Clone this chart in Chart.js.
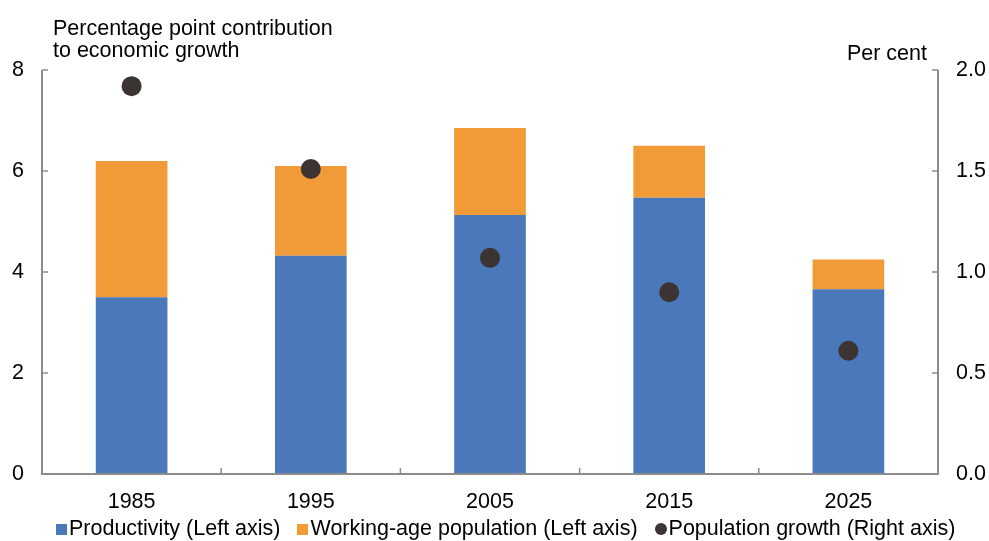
<!DOCTYPE html>
<html>
<head>
<meta charset="utf-8">
<script src="https://cdn.jsdelivr.net/npm/chart.js@4"></script>
<style>
  html, body { margin: 0; padding: 0; background: #fff; }
  #wrap { position: relative; width: 989px; height: 541px; }
  #legend {
    position: absolute; left: 56px; top: 516px;
    font: 21.5px "Liberation Sans", Arial, sans-serif; line-height: 24px;
    color: #000; white-space: nowrap;
  }
  #legend .item { display: inline-block; margin-right: 17px; }
  #legend .box { display: inline-block; width: 11px; height: 11px; margin-right: 2px; }
  #legend .dot { width: 12px; height: 12px; border-radius: 50%; }
</style>
</head>
<body>
<div id="wrap">
  <canvas id="chart" width="989" height="541"></canvas>
  <div id="legend"></div>
</div>
<script>
// values
const years = ['1985', '1995', '2005', '2015', '2025'];
const productivity = [3.50, 4.32, 5.13, 5.47, 3.66];
const workingAge = [2.70, 1.78, 1.72, 1.03, 0.59];
const popGrowth = [1.92, 1.51, 1.07, 0.90, 0.61];
const leftTicks = [0, 2, 4, 6, 8];
const rightTicks = [0, 0.5, 1.0, 1.5, 2.0];

const axisGrey = '#8c8c8c';
const fontFamily = '"Liberation Sans", Arial, sans-serif';
const fontSize = 21.5;

// axis lines, inward tick marks and the two axis captions
const axisDecor = {
  id: 'axisDecor',
  afterDraw(chart) {
    const ctx = chart.ctx;
    const area = chart.chartArea;
    const x = chart.scales.x;
    const y = chart.scales.y;
    const y1 = chart.scales.y1;
    ctx.save();
    ctx.strokeStyle = axisGrey;
    ctx.lineWidth = 2;
    ctx.beginPath();
    ctx.moveTo(area.left, area.top);
    ctx.lineTo(area.left, area.bottom);
    ctx.lineTo(area.right, area.bottom);
    ctx.lineTo(area.right, area.top);
    ctx.stroke();

    ctx.lineWidth = 1.5;
    ctx.beginPath();
    leftTicks.forEach(v => {
      const py = y.getPixelForValue(v);
      ctx.moveTo(area.left, py);
      ctx.lineTo(area.left + 6, py);
    });
    rightTicks.forEach(v => {
      const py = y1.getPixelForValue(v);
      ctx.moveTo(area.right, py);
      ctx.lineTo(area.right - 6, py);
    });
    for (let i = 1; i < years.length; i++) {
      const px = (x.getPixelForValue(i - 1) + x.getPixelForValue(i)) / 2;
      ctx.moveTo(px, area.bottom);
      ctx.lineTo(px, area.bottom - 6);
    }
    ctx.stroke();

    ctx.fillStyle = '#000';
    ctx.font = fontSize + 'px ' + fontFamily;
    ctx.textBaseline = 'alphabetic';
    ctx.textAlign = 'left';
    ctx.fillText('Percentage point contribution', 53, 35);
    ctx.fillText('to economic growth', 53, 57);
    ctx.textAlign = 'right';
    ctx.fillText('Per cent', 927, 60);
    ctx.restore();
  }
};

const chart = new Chart(document.getElementById('chart'), {
  data: {
    labels: years,
    datasets: [
      {
        type: 'bar',
        label: 'Productivity (Left axis)',
        data: productivity,
        backgroundColor: '#4a78bb',
        yAxisID: 'y',
        stack: 's',
        order: 1,
        barPercentage: 0.4,
        categoryPercentage: 1
      },
      {
        type: 'bar',
        label: 'Working-age population (Left axis)',
        data: workingAge,
        backgroundColor: '#f09b37',
        yAxisID: 'y',
        stack: 's',
        order: 1,
        barPercentage: 0.4,
        categoryPercentage: 1
      },
      {
        type: 'line',
        label: 'Population growth (Right axis)',
        data: popGrowth,
        yAxisID: 'y1',
        showLine: false,
        pointRadius: 10,
        pointHoverRadius: 10,
        pointStyle: 'circle',
        backgroundColor: '#3b3432',
        borderColor: '#3b3432',
        borderWidth: 0,
        order: 0
      }
    ]
  },
  options: {
    responsive: false,
    animation: false,
    layout: { padding: { top: 70, left: 0, right: 0, bottom: 0 } },
    plugins: {
      tooltip: { enabled: false },
      legend: { display: false }
    },
    scales: {
      x: {
        stacked: true,
        afterFit(scale) { scale.height = 67; },
        grid: { display: false },
        border: { display: false },
        ticks: { color: '#000', font: { family: fontFamily, size: fontSize }, padding: 7 }
      },
      y: {
        stacked: true,
        position: 'left',
        min: 0,
        max: 8,
        afterFit(scale) { scale.width = 42; },
        afterBuildTicks(scale) { scale.ticks = leftTicks.map(v => ({ value: v })); },
        grid: { display: false },
        border: { display: false },
        ticks: { color: '#000', font: { family: fontFamily, size: fontSize }, padding: 10 }
      },
      y1: {
        position: 'right',
        min: 0,
        max: 2,
        afterFit(scale) { scale.width = 51; },
        afterBuildTicks(scale) { scale.ticks = rightTicks.map(v => ({ value: v })); },
        grid: { display: false },
        border: { display: false },
        ticks: {
          color: '#000',
          font: { family: fontFamily, size: fontSize },
          padding: 10,
          callback: v => Number(v).toFixed(1)
        }
      }
    }
  },
  plugins: [axisDecor]
});

// legend built from the chart's own datasets
const legend = document.getElementById('legend');
chart.data.datasets.forEach(ds => {
  const item = document.createElement('span');
  item.className = 'item';
  const box = document.createElement('span');
  box.className = ds.type === 'line' ? 'box dot' : 'box';
  box.style.background = ds.backgroundColor;
  item.appendChild(box);
  item.appendChild(document.createTextNode(ds.label));
  legend.appendChild(item);
});
</script>
</body>
</html>
